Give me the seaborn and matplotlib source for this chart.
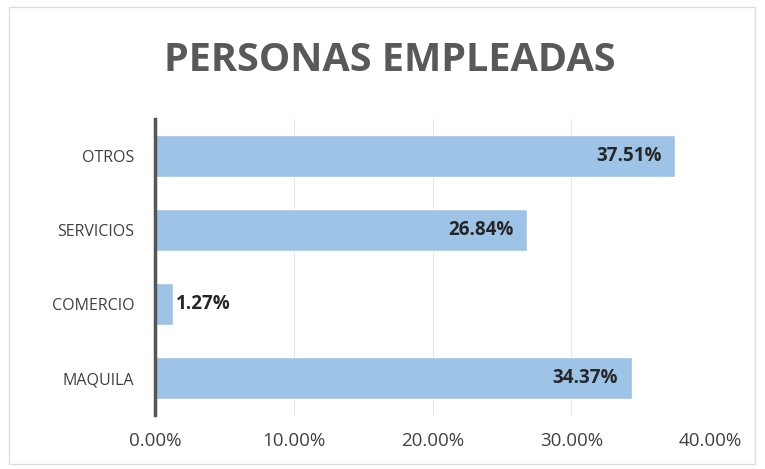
import matplotlib
matplotlib.use("Agg")
import matplotlib.pyplot as plt
import seaborn as sns
import pandas as pd
from matplotlib.ticker import FuncFormatter
from matplotlib.patches import Rectangle

# ── data ────────────────────────────────────────────────────────────────
categories = ["OTROS", "SERVICIOS", "COMERCIO", "MAQUILA"]
values = [37.51, 26.84, 1.27, 34.37]
x_ticks = [0, 10, 20, 30, 40]

df = pd.DataFrame({"sector": categories, "pct": values})

sns.set_theme(style="white")
plt.rcParams["font.family"] = ["Open Sans", "DejaVu Sans"]

fig = plt.figure(figsize=(7.65, 4.69), dpi=100)
ax = fig.add_axes([0.203, 0.115, 0.725, 0.631])

sns.barplot(data=df, x="pct", y="sector", order=categories, color="#9DC3E6",
            saturation=1, width=0.57, ax=ax)

ax.set_xlim(0, 40)
ax.set_xticks(x_ticks)
ax.xaxis.set_major_formatter(FuncFormatter(lambda v, _: f"{v:.2f}%"))
ax.set_xlabel("")
ax.set_ylabel("")
ax.grid(axis="x", color="#e6e6e6", linewidth=0.8)
ax.set_axisbelow(True)

for s in ["top", "right", "bottom"]:
    ax.spines[s].set_visible(False)
ax.spines["left"].set_color("#555555")
ax.spines["left"].set_linewidth(2.5)

ax.tick_params(axis="x", labelsize=13.5, colors="#404040", pad=12, length=0)
ax.tick_params(axis="y", labelsize=11.5, colors="#404040", pad=15, length=0)

# value labels: inside end, outside when bar too short
for i, v in enumerate(values):
    if v > 5:
        ax.text(v - 1.0, i, f"{v:.2f}%", ha="right", va="center",
                fontsize=13.5, fontweight="bold", color="#262626")
    else:
        ax.text(v + 0.2, i, f"{v:.2f}%", ha="left", va="center",
                fontsize=13.5, fontweight="bold", color="#262626")

fig.text(0.51, 0.87, "PERSONAS EMPLEADAS", ha="center", va="center",
         fontsize=28.5, fontweight="bold", color="#595959")

# faint chart area border
fig.patches.append(Rectangle((0.012, 0.01), 0.975, 0.975, transform=fig.transFigure,
                             fill=False, edgecolor="#dddddd", linewidth=1))

fig.savefig("out.png", dpi=100)
